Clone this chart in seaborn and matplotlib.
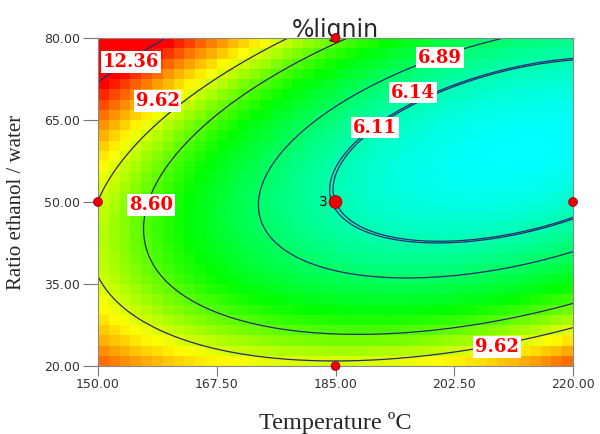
import numpy as np
import matplotlib
matplotlib.use("Agg")
import matplotlib.pyplot as plt
from matplotlib.colors import LinearSegmentedColormap
import seaborn as sns
import pandas as pd

# ---- data -------------------------------------------------------------
temp_ticks = [150.00, 167.50, 185.00, 202.50, 220.00]
ratio_ticks = [20.00, 35.00, 50.00, 65.00, 80.00]
# quadratic response-surface coefficients (coded units):
# b0, bT, bR, bTR, bTT, bRR
coef = [6.11, -1.88, -0.52, -1.95, 1.62, 3.20]
contour_levels = [6.11, 6.14, 6.89, 8.60, 9.62, 12.36]
label_text = ["12.36", "9.62", "8.60", "6.89", "6.14", "6.11", "9.62"]
label_temp = [154.9, 158.8, 157.8, 200.4, 196.4, 190.8, 208.8]
label_ratio = [75.6, 68.5, 49.5, 76.4, 70.0, 63.6, 23.5]
design_temp = [185, 150, 220, 185, 185]
design_ratio = [50, 50, 50, 80, 20]
design_reps = [3, 1, 1, 1, 1]

# ---- model -------------------------------------------------------------
def model(T, R):
    x = (T - 185.0) / 35.0
    y = (R - 50.0) / 30.0
    b0, b1, b2, b12, b11, b22 = coef
    return b0 + b1 * x + b2 * y + b12 * x * y + b11 * x ** 2 + b22 * y ** 2

sns.set_theme(style="white")
plt.rcParams["font.family"] = ["DejaVu Sans"]

fig = plt.figure(figsize=(6.0, 4.34), dpi=100)
ax = fig.add_axes([98 / 600, (434 - 366) / 434, 475 / 600, 328 / 434])

vmin, vmax = 4.0, 12.1
def pos(v):
    return (v - vmin) / (vmax - vmin)
cmap = LinearSegmentedColormap.from_list(
    "de", [(0.0, "#0000ff"), (pos(5.3), "#00ffff"), (pos(7.9), "#00ff00"),
           (pos(9.95), "#ffff00"), (1.0, "#ff0000")])

# pixelated surface
ncol, nrow = 44, 32
te = np.linspace(150, 220, ncol + 1)
re = np.linspace(20, 80, nrow + 1)
tc = 0.5 * (te[:-1] + te[1:])
rc = 0.5 * (re[:-1] + re[1:])
TC, RC = np.meshgrid(tc, rc)
Z = model(TC, RC)
ax.pcolormesh(te, re, Z, cmap=cmap, vmin=vmin, vmax=vmax,
              shading="flat", antialiased=False, edgecolors="none")

# contours on a fine grid
tf = np.linspace(150, 220, 400)
rf = np.linspace(20, 80, 400)
TF, RF = np.meshgrid(tf, rf)
ZF = model(TF, RF)
ax.contour(TF, RF, ZF, levels=contour_levels, colors="#2a2a70",
           linewidths=0.9)

# contour labels
for txt, t, r in zip(label_text, label_temp, label_ratio):
    ax.text(t, r, txt, ha="center", va="center", color="#ff0000",
            fontsize=13, fontweight="bold", family="DejaVu Serif",
            bbox=dict(boxstyle="square,pad=0.1", fc="white", ec="none"),
            zorder=5)

# design points
pts = pd.DataFrame({"T": design_temp, "R": design_ratio,
                    "reps": design_reps})
sns.scatterplot(data=pts, x="T", y="R", size="reps", sizes=(40, 85),
                color="#ee0000", edgecolor="#990000", linewidth=0.6,
                legend=False, ax=ax, clip_on=False, zorder=6)
for t, r, n in zip(design_temp, design_ratio, design_reps):
    if n > 1:
        ax.text(t - 1.2, r, str(n), ha="right", va="center", fontsize=10,
                color="black", zorder=7)

ax.set_xlim(150, 220)
ax.set_ylim(20, 80)
ax.set_xticks(temp_ticks)
ax.set_yticks(ratio_ticks)
ax.set_xticklabels([f"{v:.2f}" for v in temp_ticks])
ax.set_yticklabels([f"{v:.2f}" for v in ratio_ticks])
ax.tick_params(axis="both", direction="out", width=0.8,
               color="#777777", labelsize=9, labelcolor="#333333",
               bottom=True, left=True, pad=2)
ax.tick_params(axis="x", length=7)
ax.tick_params(axis="y", length=11)
for s in ax.spines.values():
    s.set_color("#888888")
    s.set_linewidth(0.8)

ax.set_xlabel("Temperature ºC", family="Liberation Serif", fontsize=17.5,
              labelpad=15)
ax.set_ylabel("Ratio ethanol / water", family="Liberation Serif",
              fontsize=15, labelpad=13)
ax.set_title("%lignin", fontsize=17, pad=1, family="DejaVu Sans")

fig.savefig("out.png", dpi=100)
